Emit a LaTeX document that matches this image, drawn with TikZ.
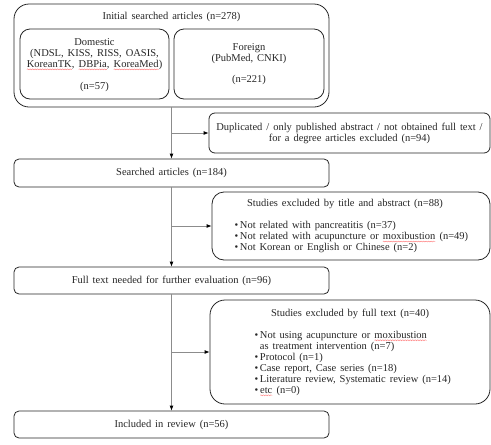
\documentclass[tikz,border=0pt]{standalone}
\usepackage{fontspec}
\setmainfont{Liberation Serif}[WordSpace=1.5]
\usetikzlibrary{positioning,arrows.meta,decorations.pathmorphing}
\newcommand\spellwave[1]{\tikz[baseline=(w.base),sharp corners,line width=0.4pt]{\node[inner sep=0pt,outer sep=0pt,draw=none,minimum width=0pt,minimum height=0pt] (w) {#1};
	\draw[red!55,decorate,decoration={snake,amplitude=0.5pt,segment length=2.5pt}]
		([yshift=-2pt]w.base west) -- ([yshift=-2pt]w.base east);}}

\begin{document}
\begin{tikzpicture}[x=1pt,y=-1pt,
				every node/.style={font=\fontsize{10.5}{11}\selectfont,text=black!85},
				mainbox/.style={draw=black!85,line width=0.8pt,rounded corners=5pt,minimum width=315pt,minimum height=27pt,inner sep=0pt},
				subbox/.style={draw=black!85,line width=0.8pt,rounded corners=10pt,minimum width=150pt,minimum height=70pt,inner sep=0pt,align=center},
				exclbox/.style={draw=black!85,line width=0.8pt,rounded corners=12pt,inner sep=0pt},
				flow/.style={draw=black!45,line width=0.8pt},
				tip/.style={-{Latex[length=5pt,width=4pt,color=black]}}]
				\useasboundingbox (0,0) rectangle (491,445);
				% main column
				\node (init)  [mainbox,rounded corners=15pt,minimum height=103pt] at (171.5,55.5) {};
				\node (initlabel) at (171.5,17) {Initial searched articles (n=278)};
				\node (dom)   [subbox,minimum width=149pt] at (94.5,64) {};
				\node (domlabel) [align=center] at (94.5,65)
					{Domestic\\(NDSL, KISS, RISS, OASIS,\\\spellwave{KoreanTK}, \spellwave{DBPia}, \spellwave{KoreaMed})\\[11pt](n=57)};
				\node (for)   [subbox] at (249,64) {Foreign\\(PubMed, CNKI)\\[10pt](n=221)};
				\node (srch)  [mainbox,minimum height=28pt] at (171.5,173) {Searched articles (n=184)};
				\node (full)  [mainbox] at (171.5,280.5) {Full text needed for further evaluation (n=96)};
				\node (incl)  [mainbox] at (171.5,424.5) {Included in review (n=56)};
				% exclusion boxes
				\node (dup)   [exclbox,rounded corners=6pt,minimum width=281pt,minimum height=40pt,align=center] at (349.5,133)
					{Duplicated / only published abstract / not obtained full text /\\for a degree articles excluded (n=94)};
				\node (ttl)   [exclbox,minimum width=278pt,minimum height=68pt] at (351,226) {};
				\node (ttllabel) at (345,204) {Studies excluded by title and abstract (n=88)};
				\node (ttllist) [anchor=west,align=left] at (231,237)
					{\textbullet\,Not related with pancreatitis (n=37)\\
					 \textbullet\,Not related with acupuncture or \spellwave{moxibustion} (n=49)\\
					 \textbullet\,Not Korean or English or Chinese (n=2)};
				\node (ftx)   [exclbox,rounded corners=15pt,minimum width=280pt,minimum height=104pt] at (350,352) {};
				\node (ftxlabel) at (350,314) {Studies excluded by full text (n=40)};
				\node (ftxlist) [anchor=west,align=left] at (251,363.5)
					{\textbullet\,Not using acupuncture or \spellwave{moxibustion}\\
					 \phantom{\textbullet\,}as treatment intervention (n=7)\\
					 \textbullet\,Protocol (n=1)\\
					 \textbullet\,Case report, Case series (n=18)\\
					 \textbullet\,Literature review, Systematic review (n=14)\\
					 \textbullet\,\spellwave{etc} (n=0)};
				% connectors
				\coordinate (fork1) at (init.south |- dup.west);
				\coordinate (fork2) at (srch.south |- ttl.west);
				\coordinate (fork3) at (full.south |- ftx.west);
				\draw[flow,tip] (init.south) -- (srch.north);
				\draw[flow,tip] (srch.south) -- (full.north);
				\draw[flow,tip] (full.south) -- (incl.north);
				\draw[flow,tip] (fork1) -- (dup.west);
				\draw[flow,tip] (fork2) -- (ttl.west);
				\draw[flow,tip] (fork3) -- (ftx.west);
			\end{tikzpicture}
\end{document}
